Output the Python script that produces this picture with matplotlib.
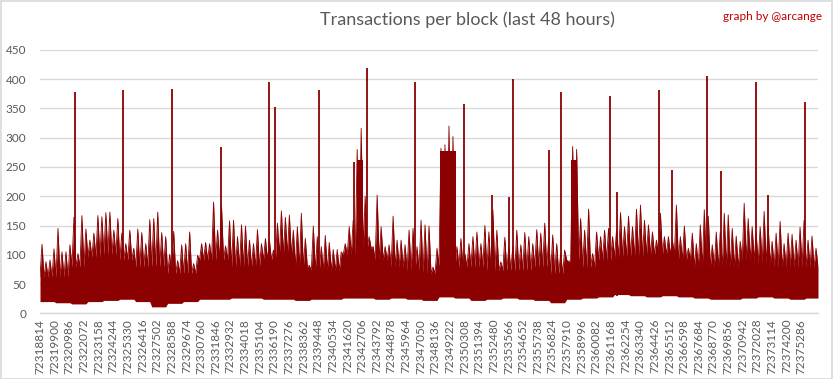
import numpy as np
import matplotlib
matplotlib.use("Agg")
import matplotlib.pyplot as plt
from matplotlib.patches import Rectangle

plt.rcParams['font.family'] = ['Lato', 'DejaVu Sans']

first_block = 72318814
seg_blocks = 296          # one segment ~ 4 px of the original chart
label_step = 1086
n_labels = 53

# upper tips per segment
seg_top = [
    118, 88, 91, 110, 145, 105, 105, 117, 164, 102, 167, 144, 125, 137, 167, 165, 172, 173, 142, 162,
    137, 119, 142, 111, 144, 138, 119, 160, 162, 173, 138, 131, 101,
    140, 90, 117, 119, 139, 85, 99, 119, 121, 119, 190, 142, 182, 115, 158, 159, 131, 151,
    149, 125, 119, 143, 119, 128, 125, 108, 154, 175, 164, 168, 142, 148, 171,
    128, 82, 149, 131, 114, 133, 121, 109, 109, 105, 119, 148, 159, 280, 316, 200, 131, 114,
    202, 148, 114, 117, 166, 125, 125, 117, 142, 145, 114, 159, 151, 149,
    79, 111, 282, 288, 320, 302, 114, 128, 102, 119, 131, 139, 119, 150, 139, 177, 142, 88,
    130, 114, 114, 142, 117, 138, 131, 119, 143, 137, 154, 130, 134, 119,
    102, 108, 88, 285, 280, 162, 142, 178, 102, 139, 131, 142, 145, 131, 142, 172, 148, 166,
    148, 178, 185, 159, 151, 139, 125, 171, 131, 131, 125, 185, 131, 149, 111,
    137, 119, 151, 177, 166, 117, 139, 139, 171, 168, 145, 132, 123, 188, 162, 148, 137, 148,
    174, 150, 123, 137, 157, 119, 137, 135, 125, 147, 159, 125, 132, 111,
]

# solid part of the band, one value per 4 segments
body = [62, 62, 79, 96, 100, 91, 79, 79, 68, 68, 91, 91, 79, 79, 91, 100, 79, 73, 73, 100,
        111, 91, 79, 73, 68, 80, 79, 79, 73, 73, 73, 79, 68, 91, 79, 91, 96, 96, 100, 100,
        91, 79, 79, 79, 91, 85, 79, 79, 79]

# lower edge, one value per 4 segments
low = [20, 18, 16, 20, 22, 24, 20, 11, 17, 20, 24, 24, 26, 26, 24, 24, 22, 24, 24, 26,
       26, 24, 26, 24, 22, 28, 26, 22, 24, 26, 24, 22, 18, 24, 26, 28, 32, 30, 28, 30,
       28, 26, 24, 24, 26, 28, 26, 24, 26]

# isolated spikes
spike_block = [72321433, 72324994, 72328629, 72332265, 72335826, 72336271, 72339491,
               72342110, 72343096, 72346658, 72350293, 72352370, 72353631, 72353928,
               72356540, 72357489, 72361125, 72361644, 72364760, 72365680, 72368321,
               72369360, 72371956, 72372847, 72375592]
spike_val = [378, 382, 384, 284, 395, 352, 381,
             259, 419, 396, 357, 202, 198, 400,
             279, 378, 372, 207, 381, 244, 405,
             243, 395, 202, 361]

# short bursts of heavy load
burst_start = [72342369, 72348468, 72358232]
burst_end = [72342814, 72349677, 72358655]
burst_val = [262, 278, 262]

red = '#8B0000'
grey_txt = '#595959'
grid_col = '#d9d9d9'

fig = plt.figure(figsize=(8.33, 3.79), dpi=100)
ax = fig.add_axes([40 / 833, 65.7 / 379, 778 / 833, 263.4 / 379])

n = len(seg_top)
edges = first_block + seg_blocks * np.arange(n + 1)
centers = edges[:-1] + seg_blocks / 2
grp = 4 * seg_blocks

xs, ys = [], []
for k in range(n):
    xs += [edges[k], centers[k]]
    ys += [body[k // 4], seg_top[k]]
xs.append(edges[n])
ys.append(body[(n - 1) // 4])
xs = np.array(xs, dtype=float)
low_y = [low[min(int((x - first_block) // grp), len(low) - 1)] for x in xs]

ax.fill_between(xs, low_y, ys, color=red, lw=0, zorder=3)
ax.plot(xs, ys, color=red, lw=0.6, zorder=3)

for s, e, v in zip(burst_start, burst_end, burst_val):
    i = min(int((s - first_block) // grp), len(low) - 1)
    ax.fill_between([s, e], [low[i], low[i]], [v, v], color=red, lw=0, zorder=3)

ax.vlines(spike_block, 30, spike_val, color=red, lw=1.3, zorder=4)

ax.set_xlim(first_block, first_block + n * seg_blocks)
ax.set_ylim(0, 450)
ax.set_yticks(np.arange(0, 451, 50))
ticks = first_block + label_step * np.arange(n_labels)
ax.set_xticks(ticks)
ax.set_xticklabels([str(t) for t in ticks], rotation=90)

ax.grid(axis='y', color=grid_col, lw=1, zorder=0)
ax.set_axisbelow(True)
for side in ['top', 'right', 'left']:
    ax.spines[side].set_visible(False)
ax.spines['bottom'].set_color(grid_col)
ax.spines['bottom'].set_linewidth(1)
ax.tick_params(axis='both', length=0, colors=grey_txt, labelsize=8.5)
ax.tick_params(axis='y', pad=10)
ax.tick_params(axis='x', pad=4)

fig.text(467 / 833, 1 - 20 / 379, 'Transactions per block (last 48 hours)',
         ha='center', va='center', fontsize=13, color=grey_txt)
fig.text(822 / 833, 1 - 17 / 379, 'graph by @arcange',
         ha='right', va='center', fontsize=8.5, color='#c00000')

fig.patches.append(Rectangle((0.5 / 833, 0.5 / 379), 831.5 / 833, 377.5 / 379,
                             transform=fig.transFigure, fill=False,
                             edgecolor=grid_col, lw=1.2))

fig.savefig('out.png', dpi=100)
